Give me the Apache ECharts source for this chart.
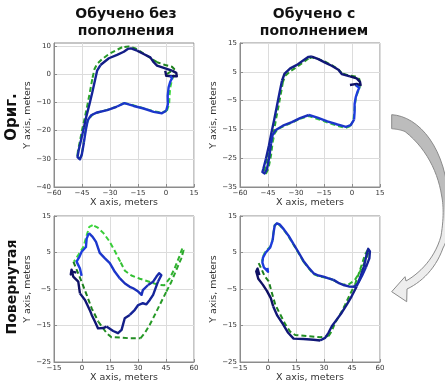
<!DOCTYPE html>
<html><head><meta charset="utf-8">
<script src="https://cdn.jsdelivr.net/npm/echarts@6/dist/echarts.min.js"></script>
<style>html,body{margin:0;padding:0;background:#fff}#c{width:445px;height:382px}</style>
</head><body><div id="c"></div><script>
// ---------- data (metres) ----------
const colTitles = ['Обучено без\nпополнения', 'Обучено с\nпополнением'];
const rowTitles = ['Ориг.', 'Повернутая'];
const xName = 'X axis, meters';
const yName = 'Y axis, meters';

const xTicksTop = [-60, -45, -30, -15, 0, 15];
const xTicksBottom = [-15, 0, 15, 30, 45, 60];
const yTicksTopLeft = [-40, -30, -20, -10, 0, 10];
const yTicksTopRight = [-35, -25, -15, -5, 5, 15];
const yTicksBottom = [-25, -15, -5, 5, 15];

// top-left: original, trained without augmentation
const tlGroundTruth = [[0.5,0.0],[3.2,1.2],[4.4,1.8],[3.2,2.6],[-0.4,3.2],[-4.8,4.2],[-7.5,5.3],[-10.2,6.5],[-13.4,7.9],[-16.4,9.1],[-20.0,9.8],[-23.5,9.5],[-27.1,8.3],[-30.6,7.1],[-34.2,5.3],[-36.9,3.6],[-38.3,1.8],[-39.5,-1.8],[-40.8,-6.5],[-42.2,-11.3],[-43.5,-15.4],[-44.9,-19.6],[-46.1,-23.7],[-47.2,-27.3],[-47.5,-29.1],[-46.5,-30.0],[-45.4,-29.1],[-44.3,-25.5],[-43.5,-21.4],[-42.6,-17.8],[-41.3,-15.8],[-39.0,-14.2],[-35.1,-13.3],[-30.6,-12.5],[-26.2,-11.5],[-22.6,-10.3],[-19.1,-10.7],[-14.6,-11.6],[-10.2,-12.5],[-5.7,-13.3],[-2.2,-13.6],[0.5,-13.0],[1.7,-10.7],[1.9,-7.7],[2.3,-4.7],[3.2,-2.0],[4.1,-0.6],[2.3,0.0]];
const tlPredicted = [[-0.4,1.2],[0.1,-0.6],[3.2,-0.8],[5.8,-0.8],[5.5,0.4],[3.2,1.2],[-0.4,2.0],[-4.8,3.0],[-6.6,4.2],[-8.4,5.9],[-12.0,7.1],[-15.5,8.3],[-18.7,9.1],[-20.5,8.9],[-22.6,7.9],[-26.2,6.8],[-30.6,5.6],[-35.1,3.2],[-36.9,1.2],[-38.1,-2.4],[-39.5,-6.5],[-41.0,-10.7],[-42.6,-14.8],[-44.0,-19.0],[-45.4,-23.1],[-46.7,-26.7],[-47.4,-29.4],[-46.1,-30.2],[-45.1,-28.5],[-44.0,-24.3],[-42.9,-19.6],[-41.9,-16.3],[-40.1,-14.6],[-36.9,-13.6],[-31.5,-12.8],[-26.2,-11.5],[-22.3,-10.3],[-17.3,-11.3],[-12.0,-12.2],[-6.6,-13.4],[-2.2,-13.9],[0.1,-13.0],[1.0,-10.7],[0.9,-7.7],[1.4,-4.7],[2.3,-2.7],[3.2,-1.5],[2.3,-0.6]];

// top-right: original, trained with augmentation
const trGroundTruth = [[1.6,0.4],[4.6,0.4],[3.9,2.5],[1.6,3.4],[-2.0,3.8],[-5.5,4.5],[-7.3,5.9],[-10.9,7.3],[-14.4,8.5],[-18.0,9.4],[-21.5,10.0],[-23.3,9.6],[-26.0,8.3],[-29.5,6.7],[-33.1,5.2],[-35.8,3.6],[-37.0,1.5],[-38.0,-2.2],[-39.3,-6.8],[-40.7,-11.4],[-41.9,-16.0],[-43.4,-20.6],[-45.2,-25.2],[-46.6,-28.7],[-47.3,-29.8],[-46.0,-30.2],[-44.8,-28.7],[-43.4,-24.1],[-42.5,-19.5],[-41.6,-16.6],[-39.7,-14.8],[-36.7,-13.9],[-32.2,-12.7],[-27.8,-11.3],[-23.3,-10.4],[-18.9,-11.3],[-13.5,-12.5],[-8.2,-13.7],[-3.7,-14.5],[-1.1,-13.9],[0.7,-12.0],[1.2,-9.1],[1.6,-6.2],[2.1,-3.9],[3.4,-1.6],[4.3,0.1]];
const trPredicted = [[-1.1,0.4],[2.5,0.8],[4.6,0.4],[4.3,1.5],[2.5,2.7],[-1.1,3.4],[-5.5,4.2],[-7.3,5.7],[-10.9,7.1],[-14.4,8.2],[-18.0,9.4],[-21.5,10.3],[-23.3,10.2],[-26.0,9.0],[-29.5,7.4],[-33.1,6.2],[-36.1,4.4],[-37.5,1.9],[-38.8,-2.2],[-40.2,-6.8],[-41.6,-11.4],[-43.1,-16.0],[-44.5,-20.6],[-46.1,-25.2],[-47.5,-28.7],[-48.0,-29.8],[-46.8,-30.3],[-45.6,-28.9],[-44.3,-24.6],[-43.4,-20.0],[-42.5,-16.9],[-40.6,-15.1],[-37.0,-13.7],[-32.2,-12.5],[-27.8,-11.1],[-23.1,-10.0],[-18.5,-10.9],[-13.2,-12.2],[-7.8,-13.3],[-3.2,-14.1],[-0.7,-13.5],[1.1,-11.6],[1.4,-8.8],[1.4,-6.2],[2.0,-3.9],[3.0,-1.8],[3.9,-0.5],[2.0,0.3]];

// bottom-left: rotated, trained without augmentation
const blGroundTruth = [[-4.6,2.5],[-2.8,0.2],[-0.2,-3.0],[2.5,-6.6],[5.2,-10.3],[8.7,-13.9],[13.2,-17.1],[15.8,-18.2],[20.3,-18.3],[25.6,-18.5],[31.3,-18.5],[33.6,-17.1],[36.3,-14.8],[39.0,-12.1],[41.6,-9.4],[45.2,-5.7],[47.9,-3.0],[50.5,0.2],[53.2,3.4],[54.4,5.6],[53.7,6.1],[52.3,4.1],[49.6,0.6],[47.0,-2.1],[44.0,-4.0],[40.5,-3.8],[36.0,-3.0],[31.0,-2.2],[26.5,-1.3],[23.0,0.0],[20.5,2.5],[17.5,5.5],[14.5,8.2],[11.5,10.3],[8.5,11.8],[5.7,12.5],[3.9,12.0],[2.5,9.7],[0.7,6.5],[-2.0,4.3],[-4.3,2.5]];
const blPredicted = [[-3.0,-0.5],[-4.6,-0.3],[-6.0,-1.0],[-5.6,0.3],[-4.7,-1.6],[-2.0,-3.0],[-1.1,-6.2],[1.6,-8.0],[4.2,-10.8],[5.2,-12.1],[6.9,-13.9],[8.6,-15.8],[11.4,-15.7],[13.1,-15.3],[16.7,-16.5],[19.3,-17.1],[21.2,-16.2],[22.0,-16.2],[22.9,-13.0],[23.8,-12.5],[25.6,-12.1],[28.3,-10.7],[30.1,-9.4],[32.6,-8.9],[34.5,-9.2],[36.3,-8.0],[38.1,-6.6],[40.7,-3.0],[41.6,-3.0],[42.5,-1.2],[41.3,-0.7],[39.9,-1.6],[38.1,-3.0],[35.4,-3.9],[32.6,-5.3],[31.9,-6.6],[30.1,-5.7],[27.4,-4.8],[25.6,-4.4],[23.0,-3.5],[20.3,-2.1],[17.6,-0.3],[14.9,2.1],[12.3,3.4],[9.5,4.9],[7.5,7.9],[5.7,9.3],[3.7,10.3],[2.5,8.8],[2.1,6.5],[-0.2,5.2],[-1.4,3.8],[-2.9,2.5],[-1.1,0.6],[-0.2,-1.4]];

// bottom-right: rotated, trained with augmentation
const brGroundTruth = [[-5.0,2.1],[-3.5,0.5],[-1.8,-1.5],[0.4,-2.9],[2.1,-6.1],[3.9,-9.3],[6.6,-12.0],[9.3,-14.7],[11.9,-16.7],[14.6,-17.6],[20.8,-17.9],[27.9,-18.2],[32.4,-17.9],[34.2,-16.5],[35.9,-14.3],[38.6,-12.0],[41.3,-9.3],[43.9,-6.5],[46.6,-3.8],[48.4,-1.1],[50.2,1.6],[52.0,4.4],[53.4,5.7],[53.7,4.8],[52.0,2.5],[49.3,-0.2],[46.6,-2.5],[43.1,-3.8],[40.4,-3.8],[37.7,-3.4],[35.1,-2.6],[32.4,-2.0],[29.7,-1.8],[27.0,-1.5],[24.4,-0.9],[21.7,0.7],[19.0,2.5],[16.4,4.8],[13.7,7.1],[11.0,9.4],[8.4,11.2],[6.2,12.5],[4.8,13.0],[3.6,12.5],[3.0,10.7],[2.5,8.5],[1.2,6.6],[-1.4,5.3],[-2.7,3.9],[-3.2,2.5]];
const brPredicted = [[-4.6,-1.2],[-5.6,0.6],[-6.3,-0.2],[-5.2,-2.2],[-2.8,-3.8],[-0.6,-5.5],[1.5,-7.5],[2.8,-9.8],[5.0,-12.3],[8.0,-14.6],[10.8,-17.0],[13.7,-18.6],[19.0,-18.7],[24.4,-18.9],[27.9,-19.1],[30.6,-18.4],[32.4,-17.0],[34.2,-15.2],[36.8,-13.4],[39.5,-11.5],[42.2,-9.3],[44.8,-7.0],[47.5,-4.3],[49.6,-1.5],[51.4,1.2],[52.8,4.4],[53.7,6.0],[54.6,5.3],[54.3,3.4],[52.5,1.0],[50.5,-1.2],[48.5,-3.2],[46.4,-4.4],[43.3,-4.3],[40.4,-3.9],[37.7,-3.3],[35.1,-2.5],[32.4,-2.1],[29.7,-1.6],[27.0,-1.3],[24.4,-0.7],[21.7,0.9],[19.0,2.7],[16.4,5.0],[13.7,7.3],[11.0,9.6],[8.4,11.4],[6.2,12.7],[4.8,13.0],[3.6,12.4],[3.0,10.5],[2.5,8.4],[1.2,6.4],[-1.2,5.0],[-2.7,3.6],[-3.0,2.2],[-2.2,0.9],[-1.0,0.3],[0.0,-0.3],[-0.3,0.8]];

// ---------- styling helpers ----------
const GT0 = '#1b7a1b', GT1 = '#40e040';
const PR0 = '#0e0e5c', PR1 = '#1f40e6';
function hex(c){return [1,3,5].map(i=>parseInt(c.substr(i,2),16));}
function mix(a,b,t){const A=hex(a),B=hex(b);return 'rgb('+A.map((v,i)=>Math.round(v+(B[i]-v)*t)).join(',')+')';}
function trajSeries(pts, gi, c0, c1, dashed, nChunks){
  const out=[]; const n=pts.length;
  for(let k=0;k<nChunks;k++){
    const s=Math.floor(k*(n-1)/nChunks), e=Math.floor((k+1)*(n-1)/nChunks);
    out.push({type:'line', xAxisIndex:gi, yAxisIndex:gi, data:pts.slice(s,e+1),
      showSymbol:false, symbol:'none', silent:true, animation:false, clip:true,
      lineStyle:{color:mix(c0,c1,(k+0.5)/nChunks), width:dashed?2:2.4, type:dashed?[5,3]:'solid', cap:'butt', join:'round'},
      z: dashed?2:3});
  }
  return out;
}
const fmt = v => (v<0?'\u2212':'')+Math.abs(v);
const FONT = 'DejaVu Sans';
function xAxis(gi,min,max,ticks){
  return {type:'value', gridIndex:gi, min, max,
    axisLine:{show:true, onZero:false, lineStyle:{color:'#8c8c8c', width:1}},
    axisTick:{show:true, inside:true, length:3, customValues:ticks, lineStyle:{color:'#8c8c8c'}},
    axisLabel:{customValues:ticks, formatter:fmt, fontSize:7, color:'#333', margin:2.5, fontFamily:FONT},
    splitLine:{show:true, lineStyle:{color:'#dcdcdc', width:1}},
    name:xName, nameLocation:'middle', nameGap:9.5, nameTextStyle:{fontSize:9.5, color:'#333', fontFamily:FONT, verticalAlign:'top'}};
}
function yAxis(gi,min,max,ticks){
  return {type:'value', gridIndex:gi, min, max,
    axisLine:{show:true, onZero:false, lineStyle:{color:'#8c8c8c', width:1}},
    axisTick:{show:true, inside:true, length:3, customValues:ticks, lineStyle:{color:'#8c8c8c'}},
    axisLabel:{customValues:ticks, formatter:fmt, fontSize:7, color:'#333', margin:3, fontFamily:FONT},
    splitLine:{show:true, lineStyle:{color:'#dcdcdc', width:1}},
    name:yName, nameLocation:'middle', nameGap:21, nameRotate:90, nameTextStyle:{fontSize:9.5, color:'#333', fontFamily:FONT}};
}
const gridBase = {show:true, borderColor:'#8c8c8c', borderWidth:1, backgroundColor:'transparent', containLabel:false, outerBoundsMode:'none'};
const grids = [
  Object.assign({left:54, top:43, width:140, height:144}, gridBase),
  Object.assign({left:240, top:43, width:140, height:144}, gridBase),
  Object.assign({left:54, top:216, width:140, height:146}, gridBase),
  Object.assign({left:240, top:216, width:140, height:146}, gridBase)
];
const series = [].concat(
  trajSeries(tlGroundTruth,0,GT0,GT1,true,8), trajSeries(tlPredicted,0,PR0,PR1,false,8),
  trajSeries(trGroundTruth,1,GT0,GT1,true,8), trajSeries(trPredicted,1,PR0,PR1,false,8),
  trajSeries(blGroundTruth,2,GT0,GT1,true,8), trajSeries(blPredicted,2,PR0,PR1,false,8),
  trajSeries(brGroundTruth,3,GT0,GT1,true,8), trajSeries(brPredicted,3,PR0,PR1,false,8)
);

// decorative curved arrow outline (pixel geometry, not data)
function bez(p0,p1,p2,p3,n){const o=[];for(let i=1;i<=n;i++){const t=i/n,u=1-t;o.push([u*u*u*p0[0]+3*u*u*t*p1[0]+3*u*t*t*p2[0]+t*t*t*p3[0],u*u*u*p0[1]+3*u*u*t*p1[1]+3*u*t*t*p2[1]+t*t*t*p3[1]]);}return o;}
function arrowPoints(){
  let pts=[[391.7,114.7]];
  const C=(a,b,c)=>{const p=pts[pts.length-1];pts=pts.concat(bez(p,a,b,c,14));};
  C([415,116],[440,140],[447,185]);
  C([452,212],[450,236],[443,248]);
  C([436,268],[422,282],[407,289]);
  pts.push([406.7,301.7],[391.7,291.7],[405,276.7],[406,281]);
  C([420,273],[435,258],[441,236]);
  C([444,218],[443.5,205],[441.7,196]);
  C([438,172],[426,148],[405,131.5]);
  C([400,129.5],[395,129],[391.7,128.7]);
  return pts;
}

const chart = echarts.init(document.getElementById('c'), null, {renderer:'canvas'});
chart.setOption({
  animation:false,
  backgroundColor:'#ffffff',
  grid:grids,
  xAxis:[xAxis(0,-60,15,xTicksTop), xAxis(1,-60,15,xTicksTop), xAxis(2,-15,60,xTicksBottom), xAxis(3,-15,60,xTicksBottom)],
  yAxis:[yAxis(0,-40,11,yTicksTopLeft), yAxis(1,-35,15,yTicksTopRight), yAxis(2,-25,15,yTicksBottom), yAxis(3,-25,15,yTicksBottom)],
  series:series,
  graphic:[
    {type:'polygon', shape:{points:arrowPoints()}, style:{
      fill:{type:'linear', x:0, y:0, x2:0, y2:1, colorStops:[{offset:0,color:'#bcbcbc'},{offset:0.45,color:'#bcbcbc'},{offset:0.58,color:'#ebebeb'},{offset:1,color:'#eeeeee'}]},
      stroke:'#8a8a8a', lineWidth:1}},
    {type:'text', x:126, y:23, style:{text:colTitles[0], fill:'#111', font:'bold 14px "DejaVu Sans"', textAlign:'center', textVerticalAlign:'middle', lineHeight:17}},
    {type:'text', x:314, y:23, style:{text:colTitles[1], fill:'#111', font:'bold 14px "DejaVu Sans"', textAlign:'center', textVerticalAlign:'middle', lineHeight:17}},
    {type:'text', x:12, y:117, rotation:Math.PI/2, style:{text:rowTitles[0], fill:'#111', font:'bold 15px "DejaVu Sans"', textAlign:'center', textVerticalAlign:'middle'}},
    {type:'text', x:12, y:287, rotation:Math.PI/2, style:{text:rowTitles[1], fill:'#111', font:'bold 14px "DejaVu Sans"', textAlign:'center', textVerticalAlign:'middle'}}
  ]
});
</script></body></html>
